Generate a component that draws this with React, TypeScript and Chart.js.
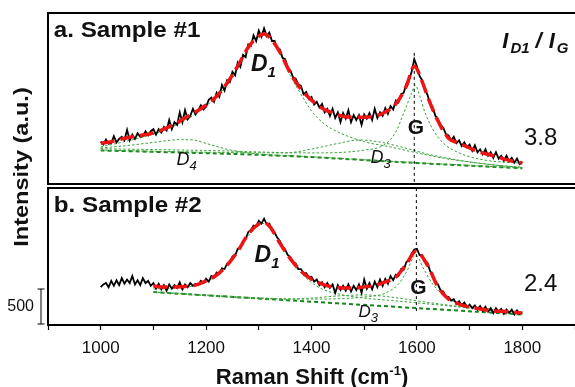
import React, { useEffect, useRef } from "react";
import { Chart, registerables } from "chart.js";

Chart.register(...registerables);

const FONT = "Arial, 'Liberation Sans', sans-serif";

// Axis setup
const X_MIN = 900;
const X_MAX = 1900;
const X_STEP = 100;
const X_LABELLED = [1000, 1200, 1400, 1600, 1800];
const Y_MIN = 0;
const Y_MAX = 4460;
const SCALE_BAR_VALUE = 500;
const PANEL_A_BOTTOM = 2015;
const PANEL_B_TOP = 1957;

// Raw spectra, sampled every 5 cm-1 from 1000 to 1800
const RAW_START = 1000;
const RAW_STEP = 5;
const RAW_A = [
  2620, 2580, 2650, 2590, 2600, 2700, 2610, 2660, 2690, 2640,
  2790, 2640, 2720, 2660, 2740, 2690, 2700, 2770, 2710, 2770,
  2800, 2720, 2800, 2750, 2830, 2780, 2930, 2800, 2900, 2860,
  3040, 2900, 3070, 2940, 2990, 3090, 3010, 3070, 3140, 3080,
  3120, 3220, 3250, 3190, 3320, 3260, 3430, 3350, 3500, 3470,
  3620, 3570, 3750, 3690, 3860, 3830, 4010, 3990, 4140, 4060,
  4210, 4120, 4240, 4130, 4180, 4060, 4060, 3950, 3940, 3820,
  3800, 3680, 3640, 3540, 3520, 3440, 3420, 3300, 3330, 3230,
  3260, 3150, 3190, 3110, 3160, 3040, 3090, 2990, 3090, 2960,
  3040, 2900, 3030, 2950, 3070, 2900, 3000, 2930, 3000, 2860,
  3010, 2950, 3030, 2930, 3090, 2960, 3040, 2990, 3100, 3020,
  3130, 3080, 3210, 3180, 3300, 3320, 3450, 3500, 3620, 3800,
  3700, 3560, 3500, 3380, 3290, 3170, 3110, 2990, 2940, 2860,
  2820, 2730, 2710, 2640, 2690, 2600, 2640, 2560, 2610, 2540,
  2580, 2490, 2570, 2470, 2510, 2440, 2510, 2420, 2470, 2390,
  2470, 2380, 2420, 2350, 2420, 2340, 2390, 2320, 2380, 2300,
  2330,
];
const RAW_B = [
  540, 580, 600, 540, 630, 560, 640, 570, 670, 590,
  650, 600, 700, 580, 640, 570, 670, 600, 630, 560,
  600, 520, 590, 510, 570, 490, 580, 520, 570, 530,
  610, 510, 580, 540, 600, 560, 590, 570, 630, 600,
  660, 620, 700, 680, 750, 730, 810, 800, 880, 890,
  980, 990, 1090, 1100, 1200, 1230, 1330, 1360, 1420, 1410,
  1490, 1450, 1520, 1440, 1450, 1350, 1320, 1250, 1200, 1120,
  1080, 1000, 970, 890, 880, 800, 800, 740, 740, 680,
  690, 620, 650, 570, 610, 540, 600, 530, 580, 460,
  570, 500, 560, 490, 580, 480, 560, 500, 580, 460,
  650, 520, 600, 510, 620, 540, 650, 560, 660, 590,
  700, 640, 720, 700, 800, 790, 900, 920, 1020, 1080,
  1090, 1000, 1000, 900, 890, 770, 720, 610, 580, 490,
  480, 400, 400, 350, 370, 300, 340, 280, 320, 250,
  290, 240, 280, 220, 270, 200, 260, 190, 240, 170,
  240, 190, 230, 160, 220, 170, 220, 150, 210, 160,
  180,
];

// Fitted envelopes
const FIT_A_X = [1000, 1020, 1040, 1060, 1080, 1100, 1120, 1140, 1160, 1180, 1200, 1220, 1240, 1260, 1280, 1300, 1310, 1320, 1340, 1360, 1380, 1400, 1420, 1440, 1460, 1480, 1500, 1520, 1540, 1560, 1580, 1595, 1610, 1620, 1640, 1660, 1680, 1700, 1720, 1740, 1760, 1780, 1800];
const FIT_A_Y = [2600, 2620, 2660, 2690, 2715, 2745, 2800, 2870, 2960, 3045, 3145, 3270, 3460, 3700, 3970, 4130, 4160, 4115, 3900, 3600, 3370, 3215, 3100, 3030, 2985, 2970, 2970, 2985, 3045, 3160, 3415, 3700, 3480, 3270, 2915, 2670, 2600, 2530, 2470, 2430, 2385, 2345, 2315];
const FIT_B_X = [1100, 1120, 1140, 1160, 1180, 1200, 1220, 1240, 1260, 1280, 1300, 1310, 1320, 1340, 1360, 1380, 1400, 1420, 1440, 1460, 1480, 1500, 1520, 1540, 1560, 1580, 1598, 1620, 1640, 1660, 1680, 1700, 1720, 1740, 1760, 1780, 1800];
const FIT_B_Y = [557, 543, 543, 550, 570, 630, 715, 855, 1055, 1300, 1445, 1460, 1415, 1170, 945, 770, 655, 585, 545, 530, 530, 545, 565, 615, 685, 870, 1055, 855, 545, 370, 300, 255, 230, 205, 195, 185, 170];

// Fitted components, sample #1 (plotted on top of the baseline)
const BASE_A_X = [1000, 1250, 1400, 1600, 1800];
const BASE_A_Y = [2495, 2445, 2400, 2315, 2240];
const D4_A_X = [1000, 1050, 1100, 1150, 1175, 1200, 1250, 1300, 1400, 1600, 1800];
const D4_A_Y = [2530, 2565, 2610, 2650, 2645, 2595, 2495, 2445, 2405, 2320, 2245];
const D1_A_X = [1000, 1050, 1100, 1150, 1200, 1250, 1280, 1305, 1330, 1360, 1380, 1400, 1425, 1450, 1500, 1550, 1600, 1650, 1700, 1750, 1800];
const D1_A_Y = [2545, 2630, 2730, 2885, 3130, 3530, 3960, 4145, 4030, 3560, 3300, 3060, 2870, 2760, 2620, 2545, 2460, 2385, 2330, 2285, 2255];
const D3_A_X = [1000, 1200, 1350, 1400, 1450, 1490, 1530, 1570, 1620, 1680, 1750, 1800];
const D3_A_Y = [2500, 2470, 2460, 2515, 2595, 2645, 2615, 2545, 2445, 2355, 2285, 2250];
const G_A_X = [1000, 1200, 1400, 1500, 1540, 1560, 1575, 1590, 1597, 1605, 1615, 1630, 1650, 1680, 1720, 1760, 1800];
const G_A_Y = [2520, 2495, 2460, 2500, 2585, 2760, 3030, 3315, 3430, 3285, 3045, 2800, 2600, 2460, 2370, 2330, 2315];

// Fitted components, sample #2
const BASE_B_X = [1100, 1800];
const BASE_B_Y = [470, 150];
const D1_B_X = [1100, 1150, 1200, 1240, 1270, 1300, 1310, 1330, 1360, 1390, 1420, 1460, 1500, 1560, 1650, 1800];
const D1_B_Y = [515, 530, 615, 845, 1170, 1430, 1450, 1315, 930, 670, 515, 430, 385, 345, 280, 170];
const D3_B_X = [1100, 1350, 1400, 1450, 1500, 1550, 1600, 1700, 1800];
const D3_B_Y = [470, 370, 385, 415, 430, 400, 345, 245, 155];
const G_B_X = [1100, 1400, 1500, 1540, 1565, 1580, 1598, 1612, 1630, 1660, 1700, 1750, 1800];
const G_B_Y = [470, 370, 400, 455, 585, 755, 1000, 815, 585, 370, 285, 215, 170];

// G-band guide lines
const VLINE_A_X = 1595;
const VLINE_A_Y = [3890, PANEL_A_BOTTOM];
const VLINE_B_X = 1599;
const VLINE_B_Y = [PANEL_B_TOP, 170];

type Part = { t: string; font: string; dx?: number; dy?: number };
type Label = { x: number; y: number; align?: "left" | "center"; sx?: number; parts: Part[] };

const LABELS: Label[] = [
  { x: 911, y: 4120, sx: 1.1, parts: [{ t: "a. Sample #1", font: "bold 22px" }] },
  { x: 911, y: 1615, sx: 1.1, parts: [{ t: "b. Sample #2", font: "bold 22px" }] },
  { x: 1285, y: 3638, parts: [{ t: "D", font: "italic bold 23px" }, { t: "1", font: "italic bold 15px", dy: 6 }] },
  { x: 1292, y: 900, parts: [{ t: "D", font: "italic bold 23px" }, { t: "1", font: "italic bold 15px", dy: 6 }] },
  { x: 1598, y: 2730, align: "center", parts: [{ t: "G", font: "bold 21px" }] },
  { x: 1603, y: 443, align: "center", parts: [{ t: "G", font: "bold 21px" }] },
  { x: 1144, y: 2286, parts: [{ t: "D", font: "italic 18px" }, { t: "4", font: "italic 13px", dy: 5 }] },
  { x: 1512, y: 2311, parts: [{ t: "D", font: "italic 18px" }, { t: "3", font: "italic 13px", dy: 5 }] },
  { x: 1489, y: 119, parts: [{ t: "D", font: "italic 17px" }, { t: "3", font: "italic 13px", dy: 5 }] },
  {
    x: 1762, y: 3958, parts: [
      { t: "I", font: "italic bold 22px" },
      { t: "D1", font: "italic bold 15px", dx: 2, dy: 5 },
      { t: "/", font: "italic bold 22px", dx: 6 },
      { t: "I", font: "italic bold 22px", dx: 7 },
      { t: "G", font: "italic bold 15px", dx: 2, dy: 5 },
    ],
  },
  { x: 1803, y: 2572, parts: [{ t: "3.8", font: "24px" }] },
  { x: 1803, y: 486, parts: [{ t: "2.4", font: "24px" }] },
];

const RED = "#ee1414";
const GREEN = "#3aa23a";
const DARK_GREEN = "#16861a";

function pts(xs: number[], ys: number[]) {
  return xs.map((x, i) => ({ x, y: ys[i] }));
}
function rawPts(ys: number[]) {
  return ys.map((y, i) => ({ x: RAW_START + i * RAW_STEP, y }));
}

function drawParts(ctx: CanvasRenderingContext2D, parts: Part[], x: number, y: number, sx: number, align: string) {
  let total = 0;
  for (const p of parts) {
    ctx.font = `${p.font} ${FONT}`;
    total += (p.dx || 0) + ctx.measureText(p.t).width;
  }
  ctx.save();
  ctx.translate(x, y);
  ctx.scale(sx, 1);
  let cx = align === "center" ? -total / 2 : 0;
  ctx.textAlign = "left";
  ctx.textBaseline = "alphabetic";
  for (const p of parts) {
    ctx.font = `${p.font} ${FONT}`;
    cx += p.dx || 0;
    ctx.fillText(p.t, cx, p.dy || 0);
    cx += ctx.measureText(p.t).width;
  }
  ctx.restore();
}

const decorPlugin = {
  id: "decor",
  afterDraw(chart: any) {
    const { ctx, chartArea: a, scales } = chart;
    const xs = scales.x;
    const ys = scales.y;
    const yA = ys.getPixelForValue(PANEL_A_BOTTOM);
    const yB = ys.getPixelForValue(PANEL_B_TOP);
    ctx.save();
    ctx.strokeStyle = "#000";
    ctx.lineWidth = 2;
    ctx.beginPath();
    ctx.moveTo(chart.width, a.top);
    ctx.lineTo(a.left, a.top);
    ctx.lineTo(a.left, yA);
    ctx.lineTo(chart.width, yA);
    ctx.moveTo(chart.width, yB);
    ctx.lineTo(a.left, yB);
    ctx.lineTo(a.left, a.bottom);
    ctx.stroke();

    // scale bar
    const y0 = ys.getPixelForValue(0) - 1;
    const y1 = ys.getPixelForValue(SCALE_BAR_VALUE) - 1;
    const bx = a.left - 7;
    ctx.lineWidth = 1;
    ctx.beginPath();
    ctx.moveTo(bx, y0);
    ctx.lineTo(bx, y1);
    ctx.moveTo(bx - 3.5, y0);
    ctx.lineTo(bx + 3.5, y0);
    ctx.moveTo(bx - 3.5, y1);
    ctx.lineTo(bx + 3.5, y1);
    ctx.stroke();
    ctx.fillStyle = "#111";
    ctx.font = `16px ${FONT}`;
    ctx.textAlign = "right";
    ctx.textBaseline = "middle";
    ctx.fillText(String(SCALE_BAR_VALUE), bx - 7, (y0 + y1) / 2);

    // annotations
    ctx.fillStyle = "#111";
    for (const l of LABELS) {
      drawParts(ctx, l.parts, xs.getPixelForValue(l.x), ys.getPixelForValue(l.y), l.sx || 1, l.align || "left");
    }

    // y title
    ctx.save();
    ctx.translate(27.5, (a.top + a.bottom) / 2 - 2);
    ctx.rotate(-Math.PI / 2);
    ctx.scale(1.12, 1);
    ctx.font = `bold 21px ${FONT}`;
    ctx.textAlign = "center";
    ctx.textBaseline = "alphabetic";
    ctx.fillText("Intensity (a.u.)", 0, 0);
    ctx.restore();

    // x title
    const tparts: Part[] = [
      { t: "Raman Shift (cm", font: "bold 22px" },
      { t: "-1", font: "bold 13px", dy: -9 },
      { t: ")", font: "bold 22px" },
    ];
    drawParts(ctx, tparts, 312, a.bottom + 59, 1, "center");
    ctx.restore();
  },
};

export default function App() {
  const ref = useRef<HTMLCanvasElement>(null);
  useEffect(() => {
    const canvas = ref.current;
    if (!canvas) return;
    const comp = (xs: number[], ys: number[]) => ({
      data: pts(xs, ys),
      borderColor: GREEN,
      borderWidth: 1,
      borderDash: [2.5, 2],
      pointRadius: 0,
      fill: false,
      cubicInterpolationMode: "monotone",
    });
    const base = (xs: number[], ys: number[]) => ({
      data: pts(xs, ys),
      borderColor: DARK_GREEN,
      borderWidth: 2,
      borderDash: [4, 3],
      pointRadius: 0,
      fill: false,
      tension: 0.3,
    });
    const fit = (xs: number[], ys: number[]) => ({
      data: pts(xs, ys),
      borderColor: RED,
      borderWidth: 3.5,
      borderDash: [14, 6],
      pointRadius: 0,
      fill: false,
      cubicInterpolationMode: "monotone",
    });
    const raw = (ys: number[]) => ({
      data: rawPts(ys),
      borderColor: "#000",
      borderWidth: 1.8,
      pointRadius: 0,
      fill: false,
      tension: 0,
    });
    const vline = (x: number, ys: number[]) => ({
      data: ys.map((y) => ({ x, y })),
      borderColor: "#000",
      borderWidth: 1,
      borderDash: [3, 3],
      pointRadius: 0,
      fill: false,
    });
    const datasets: any[] = [
      fit(FIT_A_X, FIT_A_Y),
      fit(FIT_B_X, FIT_B_Y),
      raw(RAW_A),
      raw(RAW_B),
      vline(VLINE_A_X, VLINE_A_Y),
      vline(VLINE_B_X, VLINE_B_Y),
      comp(D1_A_X, D1_A_Y),
      comp(D4_A_X, D4_A_Y),
      comp(D3_A_X, D3_A_Y),
      comp(G_A_X, G_A_Y),
      base(BASE_A_X, BASE_A_Y),
      comp(D1_B_X, D1_B_Y),
      comp(D3_B_X, D3_B_Y),
      comp(G_B_X, G_B_Y),
      base(BASE_B_X, BASE_B_Y),
    ];
    const chart = new Chart(canvas, {
      type: "line",
      data: { datasets },
      options: {
        responsive: false,
        animation: false,
        events: [],
        layout: { padding: { left: 48, right: 0, top: 13, bottom: 0 } },
        plugins: { legend: { display: false }, tooltip: { enabled: false } },
        scales: {
          x: {
            type: "linear",
            min: X_MIN,
            max: X_MAX,
            afterFit: (s: any) => {
              s.height = 62;
              s.paddingLeft = 0;
              s.paddingRight = 0;
            },
            border: { display: true, color: "#000", width: 2 },
            grid: {
              display: true,
              drawOnChartArea: false,
              drawTicks: true,
              tickLength: 5,
              color: "rgba(0,0,0,0)",
              tickColor: "#000",
              tickWidth: 1.2,
            },
            ticks: {
              stepSize: X_STEP,
              autoSkip: false,
              maxRotation: 0,
              padding: 8,
              color: "#111",
              font: { family: FONT, size: 17 },
              callback: (v: any) => (X_LABELLED.includes(Number(v)) ? String(v) : ""),
            },
          },
          y: { display: false, min: Y_MIN, max: Y_MAX },
        },
      } as any,
      plugins: [decorPlugin],
    });
    return () => chart.destroy();
  }, []);
  return (
    <div style={{ position: "fixed", left: 0, top: 0, width: 575, height: 387, overflow: "hidden", background: "#fff" }}>
      <canvas ref={ref} width={575} height={387} style={{ display: "block", width: 575, height: 387 }} />
    </div>
  );
}
